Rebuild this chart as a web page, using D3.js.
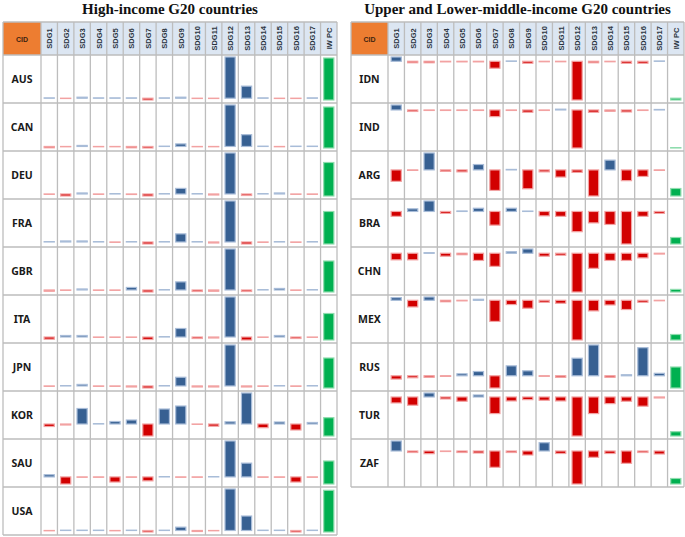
<!DOCTYPE html>
<html>
<head>
<meta charset="utf-8">
<script src="https://cdn.jsdelivr.net/npm/d3@7"></script>
<style>
    body { margin: 0; background: #fff; }
    .title { font-family: "Liberation Serif", "Times New Roman", serif; font-weight: bold; font-size: 15px; fill: #111; }
    .head { font-family: "Liberation Sans", Arial, sans-serif; font-weight: bold; font-size: 7.5px; fill: #2a3440; }
    .rowLabel { font-family: "Noto Sans", "Open Sans", sans-serif; font-weight: bold; font-size: 10.5px; fill: #1a1a1a; }
</style>
</head>
<body>
<div id="holder"></div>
<script>
const sdgs = ["SDG1", "SDG2", "SDG3", "SDG4", "SDG5", "SDG6", "SDG7", "SDG8", "SDG9", "SDG10", "SDG11", "SDG12", "SDG13", "SDG14", "SDG15", "SDG16", "SDG17"];
const iwLabel = "IW PC";

// high-income panel
const highCountries = ["AUS", "CAN", "DEU", "FRA", "GBR", "ITA", "JPN", "KOR", "SAU", "USA"];
const highSdg = [
    [0.3, -0.3, 1, 0.3, 0.3, 0.3, -1.8, 0.3, 1, -0.3, -0.3, 41, 12, 0.3, -0.3, -0.3, 0.3],
    [-1.3, -0.3, 1, -0.3, -0.3, -1.3, -1.5, 0.3, 2.5, -0.3, -0.3, 40.5, 11.5, 0.3, -0.3, 0.3, 0.3],
    [-0.3, -2, 1, -0.3, 0.3, -0.5, -2, 0.3, 5.5, 0.3, -1, 40.5, -1.5, 0.3, 1, -0.3, -0.3],
    [0.3, 1, 1, 0.3, -0.3, 0.3, -2, 0.3, 8, 0.3, -1, 40.5, -2, -0.3, 0.3, -0.3, 0.3],
    [-1.2, -0.3, 1, -0.3, -0.3, 2.5, -2, 0.3, 8, -1.5, -1.2, 40.5, -1.5, 0.3, 1.5, -0.3, 0.3],
    [-2.2, 1.5, 1.5, -0.3, -0.3, -0.3, -2.5, 0.3, 8.5, -1.5, -1, 40, -3, -0.3, 1.5, -1.5, -0.3],
    [-0.3, 0.3, 1.5, -0.3, -0.3, -1, -2, 0.3, 8.5, -1, -1, 40, -1, -0.3, 0.3, -0.3, 0.3],
    [-2.5, -1, 15.5, 0.3, 2.5, 4, -12, 15, 18, -0.3, -2.2, 2.2, 31, -3.7, 2, -6, 1.5],
    [2.2, -7.2, -0.3, -0.3, -5.2, -0.3, -4, 0.3, -0.3, -0.3, 0.3, 36.5, 14, -0.3, -0.3, -5.2, -0.3],
    [-0.3, 0.3, 0.3, 0.3, -0.3, 0.3, -1.5, 0.3, 3.3, -1, -0.3, 41, 14.3, 0.3, 0.3, -1.5, 0.3]
];
const highIw = [42, 41, 33.5, 32.5, 31, 26.5, 30, 18.3, 23, 41.7];

// upper and lower-middle-income panel
const midCountries = ["IDN", "IND", "ARG", "BRA", "CHN", "MEX", "RUS", "TUR", "ZAF"];
const midSdg = [
    [4.3, -1.5, -1.5, -0.6, -0.6, -0.6, -7, 0.3, -2, -0.5, -0.5, -39, -1.5, -0.5, -2, -2, 0.3],
    [5, -1.5, -0.5, -0.5, -0.5, -0.5, -6.7, -0.5, -2.3, -0.5, 0.8, -38.3, -2.3, -1.3, -2, -0.5, 0.5],
    [-11.7, -0.5, 17.3, -1.5, -2, 5.5, -21, 0.5, -19.3, -2, -7.3, -2.5, -26.7, 10, -11, -6.7, -0.5],
    [-5, 2.7, 10.7, -2, 0.5, 3.3, -14, 3.3, 0.4, -4.5, -5, -20.7, -11.7, -13.3, -33.3, -5, -2],
    [-6.7, -6.7, 0.5, -3, -1.5, -7.3, -13.3, 1.5, 4.3, -3, -2, -39.3, -15.3, -7.3, -7.3, -4.7, -0.8],
    [2.7, -6.7, 3.3, -1.5, -0.6, 1, -21.3, -4.3, -8, -2, -3, -40, -10.7, -4.7, -9.3, -2, -0.5],
    [-3.3, -2, -1.5, -0.6, 2, 4.3, -12.3, 10, 5, -0.5, -1.5, 17.7, 31, -1.5, 1, 28.3, 2.5],
    [-6, -8.3, 4, -2, -4.3, 2, -16.7, -4, -2.7, -3.3, -4, -39.3, -16.7, -6.7, -4.3, -9.3, -1],
    [10, -1.5, -2.7, -0.5, -1.5, -2, -16.3, -1.5, -4, 8.3, -2.5, -33, -6.3, -2.5, -12.3, -1.5, -3]
];
const midIw = [1.8, 0.4, 7.5, 6.5, 2.6, 5.5, 21, 4.3, 5.5];

const w = 685, h = 537;
const headTop = 22, headH = 33, rowH = 48;
const gridColor = "#bdbdbd";

const svg = d3.select('#holder')
    .append('svg')
    .attr('width', w)
    .attr('height', h);

// one shared scale for the IW PC column
const iwMax = d3.max(highIw.concat(midIw));

function drawPanel(title, countries, sdgRows, iwValues, x0, cidW, x1) {
    const g = svg.append('g');
    const columns = sdgs.concat([iwLabel]);

    const xScale = d3.scaleBand()
        .domain(columns)
        .range([x0 + cidW, x1]);

    const yBand = d3.scaleBand()
        .domain(countries)
        .range([headTop + headH, headTop + headH + rowH * countries.length]);

    const barW = xScale.bandwidth() * 0.62;

    g.append('text')
        .attr('class', 'title')
        .attr('x', (x0 + x1) / 2)
        .attr('y', 14)
        .style('text-anchor', 'middle')
        .text(title);

    // header row
    g.append('rect')
        .attr('x', x0).attr('y', headTop)
        .attr('width', cidW).attr('height', headH)
        .attr('fill', '#ed7d31');
    g.append('text')
        .attr('class', 'head')
        .attr('x', x0 + cidW / 2)
        .attr('y', headTop + headH / 2 + 3)
        .style('text-anchor', 'middle')
        .style('font-size', '7px')
        .style('fill', '#3d2410')
        .text('CID');

    g.selectAll('rect.headCell')
        .data(columns)
        .enter()
        .append('rect')
        .attr('class', 'headCell')
        .attr('x', d => xScale(d))
        .attr('y', headTop)
        .attr('width', xScale.bandwidth())
        .attr('height', headH)
        .attr('fill', '#dce6f2');

    g.selectAll('text.colLabel')
        .data(columns)
        .enter()
        .append('text')
        .attr('class', 'head colLabel')
        .attr('transform', d => `translate(${xScale(d) + xScale.bandwidth() / 2 + 3},${headTop + headH / 2}) rotate(-90)`)
        .style('text-anchor', 'middle')
        .text(d => d);

    // row labels
    g.selectAll('text.rowLabel')
        .data(countries)
        .enter()
        .append('text')
        .attr('class', 'rowLabel')
        .attr('x', x0 + cidW / 2)
        .attr('y', d => yBand(d) + yBand.bandwidth() / 2 + 4)
        .style('text-anchor', 'middle')
        .text(d => d);

    // bars, each row on its own scale
    countries.forEach((c, i) => {
        const vals = sdgRows[i];
        const top = yBand(c), bottom = top + rowH;
        const yScale = d3.scaleLinear()
            .domain([Math.min(0, d3.min(vals)), Math.max(0, d3.max(vals))])
            .range([bottom - 3, top + 2]);

        g.append('g')
            .selectAll('rect')
            .data(vals)
            .enter()
            .append('rect')
            .attr('x', (d, j) => xScale(sdgs[j]) + (xScale.bandwidth() - barW) / 2)
            .attr('y', d => Math.min(yScale(d), yScale(0)))
            .attr('width', barW)
            .attr('height', d => Math.abs(yScale(d) - yScale(0)))
            .attr('fill', d => d >= 0 ? '#376092' : '#d20000')
            .attr('stroke', d => d >= 0 ? '#a8bcd8' : '#f2a2a2')
            .attr('stroke-width', 1.2);

        const iwScale = d3.scaleLinear()
            .domain([0, iwMax])
            .range([bottom - 3, top + 3]);

        g.append('rect')
            .attr('x', xScale(iwLabel) + (xScale.bandwidth() - barW) / 2)
            .attr('y', iwScale(iwValues[i]))
            .attr('width', barW)
            .attr('height', iwScale(0) - iwScale(iwValues[i]))
            .attr('fill', '#00b050')
            .attr('stroke', '#8fdcae')
            .attr('stroke-width', 1.2);
    });

    // grid lines
    const yEnd = yBand.range()[1];
    const vLines = [x0, x0 + cidW].concat(columns.map(d => xScale(d) + xScale.bandwidth()));
    const hLines = [headTop, headTop + headH].concat(countries.map(d => yBand(d) + rowH));

    g.selectAll('line.v')
        .data(vLines)
        .enter()
        .append('line')
        .attr('x1', d => d).attr('x2', d => d)
        .attr('y1', headTop).attr('y2', yEnd)
        .attr('stroke', gridColor)
        .attr('stroke-width', 1.3);

    g.selectAll('line.h')
        .data(hLines)
        .enter()
        .append('line')
        .attr('x1', x0).attr('x2', x1)
        .attr('y1', d => d).attr('y2', d => d)
        .attr('stroke', gridColor)
        .attr('stroke-width', 1.3);
}

drawPanel("High-income G20 countries", highCountries, highSdg, highIw, 3, 38, 337);
drawPanel("Upper and Lower-middle-income G20 countries", midCountries, midSdg, midIw, 351, 37, 684);
</script>
</body>
</html>
